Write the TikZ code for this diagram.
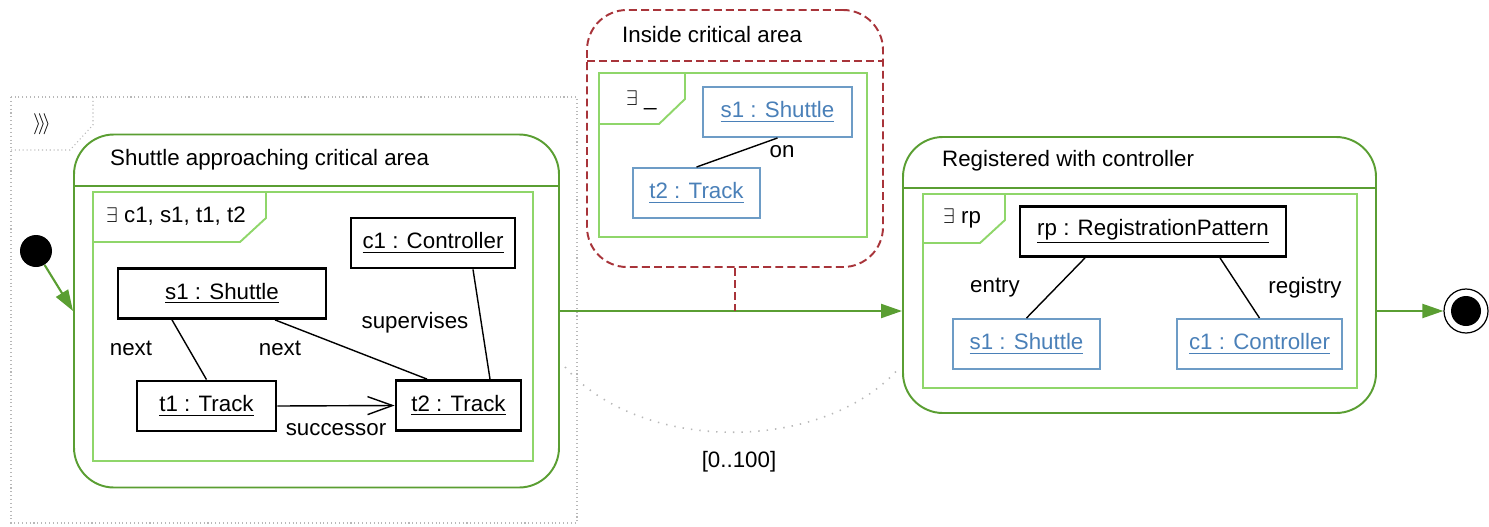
\documentclass[tikz,border=0pt]{standalone}
\usepackage{fontspec}
\setmainfont{Liberation Sans}
\usepackage{amssymb}
\usepackage{amsmath}
\usetikzlibrary{shapes,arrows,fit, positioning, arrows.meta}
\usetikzlibrary{backgrounds}

\definecolor{stategreen}{HTML}{5A9E32}
\definecolor{framegreen}{HTML}{8FD66A}
\definecolor{objblue}{HTML}{6D9CC6}
\definecolor{textblue}{HTML}{4A80B8}
\definecolor{critred}{HTML}{A8343A}
\definecolor{dotgray}{HTML}{B8B8B8}

\begin{document}
\begin{tikzpicture}[
    % GLOBAL CFG
    x=0.2mm, y=-0.2mm,
    font=\fontsize{12.7}{15}\selectfont,
    >=LaTeX,
    % Styles
    state/.style={% For the green states
        rectangle,
        rounded corners=8mm,
        draw=stategreen,
        line width=1.1pt,
        inner sep=0pt,
        },
    crit/.style={% For the red dashed state
        rectangle,
        rounded corners=8mm,
        draw=critred,
        line width=1.1pt,
        dash pattern=on 4.5pt off 2.4pt,
        inner sep=0pt,
        },
    pattern/.style={% For the inner green frames
        rectangle,
        draw=framegreen,
        line width=1.1pt,
        inner sep=0pt,
        },
    tabline/.style={% For the tab of a frame
        draw=framegreen,
        line width=1.1pt,
        },
    obj/.style={% For black objects
        rectangle,
        draw,
        line width=1.6pt,
        minimum height=10mm,
        inner sep=1pt,
        },
    ctxobj/.style={% For blue objects
        rectangle,
        draw=objblue,
        line width=1.1pt,
        text=textblue,
        minimum height=10mm,
        inner sep=1pt,
        },
    link/.style={% Links between objects
        line width=0.8pt,
        },
    trans/.style={% Transitions
        draw=stategreen,
        line width=1.2pt,
        -{Triangle[length=4.2mm,width=2.8mm]},
        },
    dotframe/.style={% Dotted things
        draw=dotgray,
        line width=0.6pt,
        dash pattern=on 0.6pt off 1.6pt,
        }
    ]

    \useasboundingbox (0,0) rectangle (1489,526);

%Start drawing the thing...
    % Draw the dotted frame
    \draw [dotframe] (11,97) rectangle (577,523);
    \draw [dotframe] (93,97) -- (93,125) -- (70,150) -- (11,150);
    \node (tag) at (42,124) {$\rangle\!\rangle\!\rangle$};

    % Draw the states named st#
    \node [state, minimum width=97mm, minimum height=70.6mm] (st1) at (316.5,311) {};
    \node [state, minimum width=94.6mm, minimum height=55.2mm] (st2) at (1139.5,275) {};
    \node [crit, minimum width=59.2mm, minimum height=51.4mm] (crit) at (735,138.5) {};
    \draw [stategreen, line width=1.1pt] (74,186) -- (559,186);
    \draw [stategreen, line width=1.1pt] (903,188) -- (1376,188);
    \draw [critred, line width=1.1pt, dash pattern=on 4.5pt off 2.4pt] (587,61) -- (883,61);
    \node [anchor=west] (st1name) at (104,160) {Shuttle approaching critical area};
    \node [anchor=west] (st2name) at (936,161) {Registered with controller};
    \node [anchor=west] (critname) at (616,35) {Inside critical area};

    % Draw the frames named pat#
    \node [pattern, minimum width=88mm, minimum height=53.8mm] (pat1) at (313,326.5) {};
    \draw [tabline] (266,192) -- (266,218) -- (240,242) -- (93,242);
    \node [anchor=west] (pat1name) at (100,216) {$\exists$ c1, s1, t1, t2};
    \node [pattern, minimum width=53.6mm, minimum height=32.8mm] (pat2) at (733,155) {};
    \draw [tabline] (685,73) -- (685,99) -- (659,124) -- (599,124);
    \node [anchor=west] (pat2name) at (620,100) {$\exists$ \_};
    \node [pattern, minimum width=86.8mm, minimum height=38.8mm] (pat3) at (1140,291) {};
    \draw [tabline] (1005,194) -- (1005,220) -- (980,243) -- (923,243);
    \node [anchor=west] (pat3name) at (937,218) {$\exists$ rp};

    % Draw objects
    \node [obj, minimum width=32.8mm] (ctrl1) at (433,243) {\underline{c1 : Controller}};
    \node [obj, minimum width=41.6mm] (shut1) at (222,293.5) {\underline{s1 : Shuttle}};
    \node [obj, minimum width=27.8mm] (track1) at (206.5,406) {\underline{t1 : Track}};
    \node [obj, minimum width=25mm] (track2) at (458.5,405.5) {\underline{t2 : Track}};
    \node [ctxobj, minimum width=29.8mm] (shut2) at (777.5,112) {\underline{s1 : Shuttle}};
    \node [ctxobj, minimum width=25.4mm] (track3) at (696.5,193) {\underline{t2 : Track}};
    \node [obj, minimum width=53.2mm] (reg) at (1153,231.5) {\underline{rp : RegistrationPattern}};
    \node [ctxobj, minimum width=29.4mm] (shut3) at (1026.5,344) {\underline{s1 : Shuttle}};
    \node [ctxobj, minimum width=33mm] (ctrl2) at (1259.5,344) {\underline{c1 : Controller}};

    % Draw pseudo states
    \node [circle, fill, minimum size=6.4mm, inner sep=0pt] (init) at (36,251) {};
    \node [circle, draw, line width=0.7pt, minimum size=8.8mm, inner sep=0pt] (fin) at (1466,311) {};
    \node [circle, fill, minimum size=6mm, inner sep=0pt] (fincore) at (1466,311) {};

    % Links
    \draw [link] ([xshift=-10mm]shut1.south) -- (track1.north);
    \draw [link] ([xshift=10.6mm]shut1.south) -- ([xshift=-6.3mm]track2.north);
    \draw [link] ([xshift=8mm]ctrl1.south) -- ([xshift=6.3mm]track2.north);
    \draw [link, -{Straight Barb[length=5mm,width=3.6mm]}] (track1.east) -- (track2.west);
    \draw [link] (track3.north) -- (shut2.south);
    \draw [link] ([xshift=-13.6mm]reg.south) -- (shut3.north);
    \draw [link] ([xshift=13.4mm]reg.south) -- (ctrl2.north);

    % Link labels
    \node (next1) at (131,348) {next};
    \node (next2) at (280,348) {next};
    \node (sup) at (415,323) {supervises};
    \node (succ) at (336,430) {successor};
    \node (on) at (782,152) {on};
    \node (entry) at (995,288) {entry};
    \node (registry) at (1305,288) {registry};

    % Transitions
    \draw [trans] (init) -- (st1.west);
    \draw [trans] (st1.east) -- (st1.east -| st2.west);
    \draw [trans] (st2.east |- fin) -- (fin);
    \draw [critred, line width=1.1pt, dash pattern=on 4.5pt off 2.4pt] (crit.south) -- (crit.south |- st1.east);

    % Time bound
    \coordinate (arcA) at (565,367);
    \coordinate (arcB) at (900,367);
    \draw [dotframe, line width=0.9pt, dash pattern=on 0.8pt off 4pt] (arcA) .. controls (640,454) and (825,454) .. (arcB);
    \node (bound) at (739,462) {[0..100]};

\end{tikzpicture}
\end{document}
